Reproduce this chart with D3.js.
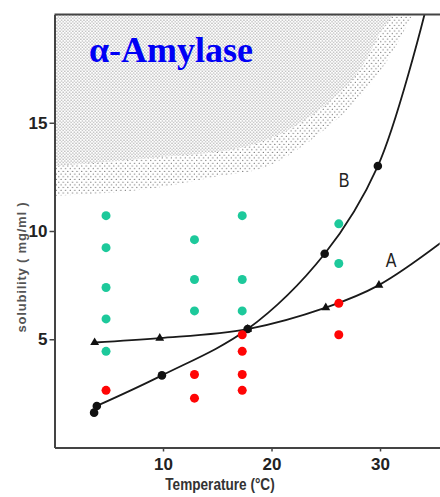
<!DOCTYPE html>
<html>
<head>
<meta charset="utf-8">
<script src="https://cdn.jsdelivr.net/npm/d3@7"></script>
<style>
body{margin:0;background:#fff}
</style>
</head>
<body>
<svg class="chart" width="440" height="497"></svg>
<script>
// tick values
const xTicks = [10, 20, 30];
const yTicks = [5, 10, 15];

// curve A (triangles) and curve B (circles), temperature vs solubility
const pointsA = [[3.7, 4.85], [9.7, 5.05], [17.8, 5.47], [25.0, 6.46], [29.9, 7.5]];
const tailA = [[35.6, 9.45]];
const pointsB = [[3.9, 1.92], [9.9, 3.33], [17.8, 5.47], [24.9, 8.95], [29.8, 13.0]];
const tailB = [[34.1, 20]];
const extraB = [[3.65, 1.61]];

// crystallisation trials
const greenDots = [
  [4.75, 10.71], [4.75, 9.23], [4.75, 7.39], [4.75, 5.94], [4.75, 4.44],
  [12.9, 9.6], [12.9, 7.76], [12.9, 6.31],
  [17.3, 10.71], [17.3, 7.76], [17.3, 6.31],
  [26.2, 10.33], [26.2, 8.5]
];
const redDots = [
  [4.75, 2.64],
  [12.9, 3.37], [12.9, 2.28],
  [17.3, 5.21], [17.3, 4.44], [17.3, 3.37], [17.3, 2.64],
  [26.2, 6.66], [26.2, 5.21]
];

// stippled zone edges
const denseEdge = [[0, 13.0], [8.8, 13.37], [17.1, 13.83], [22.9, 15.07], [25.4, 15.99], [27.5, 17.04], [28.6, 17.82], [29.8, 18.97], [31.2, 20]];
const fringeEdge = [[0, 11.63], [8.8, 11.95], [15.3, 12.55], [19.2, 12.91], [23.5, 14.15], [27.5, 15.85], [28.8, 16.58], [30.6, 17.82], [33.0, 20]];

const svg = d3.select('.chart');
const x = d3.scaleLinear().domain([0, 35.5]).range([54.5, 439.7]);
const y = d3.scaleLinear().domain([0, 20]).range([447.5, 14.5]);

// patterns
const defs = svg.append('defs');
const dense = defs.append('pattern').attr('id', 'dense')
  .attr('width', 3.2).attr('height', 3.2).attr('patternUnits', 'userSpaceOnUse');
dense.append('circle').attr('cx', 0.8).attr('cy', 0.8).attr('r', 0.5).attr('fill', '#444');
dense.append('circle').attr('cx', 2.4).attr('cy', 2.4).attr('r', 0.5).attr('fill', '#444');
const sparse = defs.append('pattern').attr('id', 'sparse')
  .attr('width', 4.6).attr('height', 5.4).attr('patternUnits', 'userSpaceOnUse');
sparse.append('circle').attr('cx', 1.2).attr('cy', 1.2).attr('r', 0.6).attr('fill', '#444');
sparse.append('circle').attr('cx', 3.5).attr('cy', 3.9).attr('r', 0.6).attr('fill', '#444');
defs.append('clipPath').attr('id', 'plot')
  .append('rect').attr('x', x(0)).attr('y', y(20)).attr('width', x(35.5) - x(0)).attr('height', y(0) - y(20));

const zone = d3.area()
  .x(d => x(d[0]))
  .y0(d => y(d[1]))
  .y1(y(20))
  .curve(d3.curveMonotoneX);

const plot = svg.append('g').attr('clip-path', 'url(#plot)');
plot.append('path').datum(fringeEdge).attr('d', zone).attr('fill', 'url(#sparse)');
plot.append('path').datum(denseEdge).attr('d', zone).attr('fill', '#fff');
plot.append('path').datum(denseEdge).attr('d', zone).attr('fill', 'url(#dense)');

// title
svg.append('text')
  .attr('x', 89).attr('y', 62)
  .attr('font-family', '"Liberation Serif", "Times New Roman", serif')
  .attr('font-weight', 'bold')
  .attr('font-size', 36)
  .attr('fill', '#0000f5')
  .text('α-Amylase');

// axes
const axisFont = '"Liberation Sans", Arial, sans-serif';
const gx = svg.append('g').attr('transform', 'translate(0,' + y(0) + ')')
  .call(d3.axisBottom(x).tickValues(xTicks).tickSize(4).tickSizeOuter(0).tickPadding(6));
const gy = svg.append('g').attr('transform', 'translate(' + x(0) + ',0)')
  .call(d3.axisLeft(y).tickValues(yTicks).tickSize(5).tickSizeOuter(0).tickPadding(2));
[gx, gy].forEach(g => {
  g.select('.domain').attr('stroke', '#444').attr('stroke-width', 2);
  g.selectAll('.tick line').attr('stroke', '#444').attr('stroke-width', 1.5);
  g.selectAll('.tick text').attr('font-family', axisFont).attr('font-size', 17)
    .attr('font-weight', 600).attr('fill', '#222');
});
svg.append('line')
  .attr('x1', x(0)).attr('x2', 440).attr('y1', y(20)).attr('y2', y(20))
  .attr('stroke', '#444').attr('stroke-width', 2);

// curves
const line = d3.line().x(d => x(d[0])).y(d => y(d[1])).curve(d3.curveCatmullRom.alpha(0.5));
plot.append('path').datum(pointsA.concat(tailA)).attr('d', line)
  .attr('fill', 'none').attr('stroke', '#1a1a1a').attr('stroke-width', 1.8);
plot.append('path').datum(pointsB.concat(tailB)).attr('d', line)
  .attr('fill', 'none').attr('stroke', '#1a1a1a').attr('stroke-width', 1.8);

plot.selectAll('.tri').data(pointsA).enter().append('path')
  .attr('class', 'tri')
  .attr('d', d3.symbol(d3.symbolTriangle, 34))
  .attr('transform', d => 'translate(' + x(d[0]) + ',' + y(d[1]) + ')')
  .attr('fill', '#111');
plot.selectAll('.dotB').data(pointsB.concat(extraB)).enter().append('circle')
  .attr('class', 'dotB')
  .attr('cx', d => x(d[0])).attr('cy', d => y(d[1])).attr('r', 4.3)
  .attr('fill', '#111');

// trial dots
plot.selectAll('.green').data(greenDots).enter().append('circle')
  .attr('class', 'green')
  .attr('cx', d => x(d[0])).attr('cy', d => y(d[1])).attr('r', 4.5)
  .attr('fill', '#1dc99b');
plot.selectAll('.red').data(redDots).enter().append('circle')
  .attr('class', 'red')
  .attr('cx', d => x(d[0])).attr('cy', d => y(d[1])).attr('r', 4.5)
  .attr('fill', '#ff0505');

// curve labels, condensed by a horizontal squeeze
const label = (tx, ty, s, size) => svg.append('text')
  .attr('transform', 'translate(' + tx + ',' + ty + ') scale(0.8,1)')
  .attr('text-anchor', 'middle')
  .attr('font-family', axisFont).attr('font-size', size).attr('fill', '#222').text(s);
label(344, 187, 'B', 20);
label(391, 267, 'A', 20);

// axis titles
svg.append('text')
  .attr('transform', 'translate(26,267) rotate(-90)')
  .attr('text-anchor', 'middle')
  .attr('font-family', axisFont).attr('font-size', 13).attr('font-weight', 600)
  .attr('letter-spacing', 0.8).attr('fill', '#555')
  .text('solubility ( mg/ml )');
label(220, 490, 'Temperature (°C)', 17).attr('font-weight', 600).attr('fill', '#333');
</script>
</body>
</html>
